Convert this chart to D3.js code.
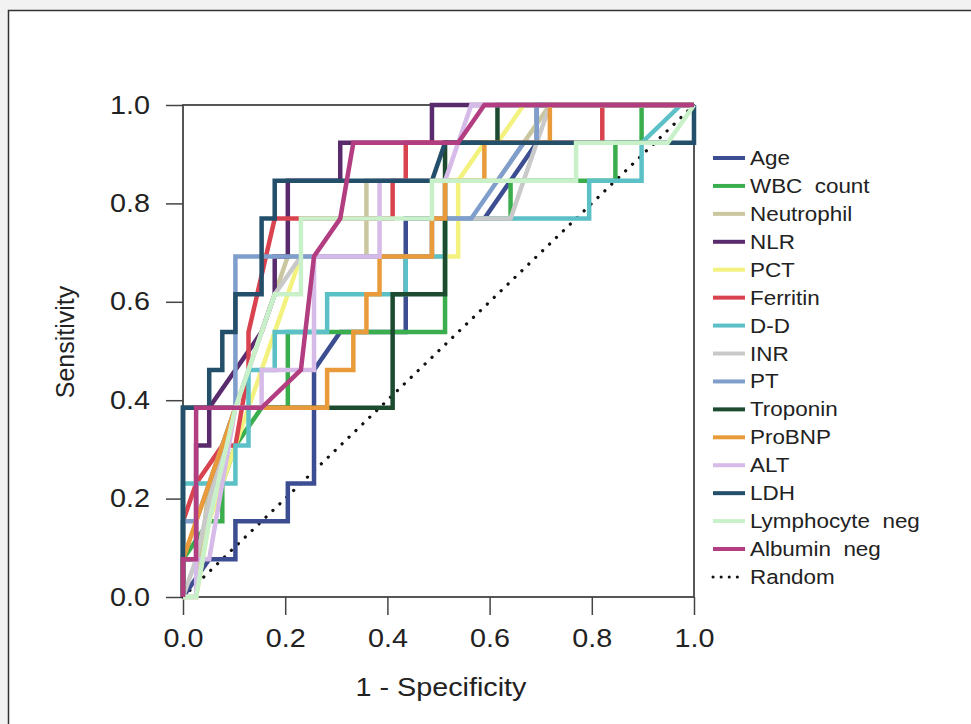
<!DOCTYPE html>
<html>
<head>
<meta charset="utf-8">
<script src="https://cdn.jsdelivr.net/npm/d3@7"></script>
<style>
  html, body { margin: 0; padding: 0; background: #f2f2f2; }
  svg { display: block; }
  text { font-family: "Liberation Sans", Arial, sans-serif; fill: #222; }
</style>
</head>
<body>
<svg width="971" height="724"></svg>
<script>
// ROC curves: points are [false positives, true positives] counts
// (39 negatives, 13 positives)
var N_NEG = 39, N_POS = 13;

var labels = ["Age", "WBC  count", "Neutrophil", "NLR", "PCT", "Ferritin", "D-D", "INR", "PT",
              "Troponin", "ProBNP", "ALT", "LDH", "Lymphocyte  neg", "Albumin  neg"];
var colors = ["#3c4e91", "#3aae4c", "#c9c6a0", "#5a2b6c", "#f4f27e", "#d8434f", "#5cc0c7", "#c9c9c9",
              "#7f9ecb", "#1c4b30", "#e99b3b", "#d6bae8", "#234f6b", "#c9f1c9", "#b23d80"];

var age        = [[0,0],[2,1],[4,1],[4,2],[8,2],[8,3],[10,3],[10,6],[12,7],[17,7],[17,10],[23,10],[27,12],[27,13],[39,13]];
var wbc        = [[0,0],[0,1],[2,2],[3,2],[3,3],[4,4],[6,5],[8,5],[8,7],[20,7],[20,10],[25,10],[25,11],[33,11],[33,12],[35,12],[35,13],[39,13]];
var neutrophil = [[0,0],[1,0],[2,3],[4,5],[6,7],[8,9],[14,9],[14,11],[24,11],[26,12],[28,13],[39,13]];
var nlr        = [[0,0],[0,1],[1,1],[1,4],[2,4],[2,5],[4,6],[6,7],[7,8],[7,9],[8,9],[8,11],[12,11],[12,12],[19,12],[19,13],[39,13]];
var pct        = [[0,0],[1,0],[2,2],[5,5],[7,7],[9,9],[21,9],[21,11],[23,12],[24,12],[26,13],[39,13]];
var ferritin   = [[0,0],[0,2],[1,3],[3,4],[4,4],[5,6],[5,7],[7,10],[16,10],[16,11],[17,11],[17,12],[32,12],[32,13],[39,13]];
var dd         = [[0,0],[0,3],[4,3],[4,4],[5,4],[5,6],[7,6],[7,7],[11,7],[11,8],[17,8],[17,9],[20,9],[20,10],[31,10],[31,11],[35,11],[35,12],[38,13],[39,13]];
var inr        = [[0,0],[1,1],[3,4],[5,6],[7,8],[9,9],[19,9],[19,10],[25,10],[27,12],[28,13],[39,13]];
var pt         = [[0,0],[0,2],[1,2],[4,5],[4,9],[19,9],[19,10],[22,10],[26,12],[27,12],[27,13],[39,13]];
var troponin   = [[0,0],[0,5],[16,5],[16,8],[20,8],[20,12],[24,12],[24,13],[39,13]];
var probnp     = [[0,0],[0,1],[1,2],[4,5],[11,5],[11,6],[13,6],[13,7],[14,7],[14,8],[15,8],[15,9],[19,9],[19,10],[20,10],[20,11],[23,11],[23,12],[28,12],[28,13],[39,13]];
var alt        = [[0,0],[1,0],[1,1],[2,1],[4,5],[6,5],[6,6],[10,6],[10,9],[15,9],[15,11],[20,11],[22,13],[39,13]];
var ldh        = [[0,0],[0,5],[2,5],[2,6],[3,6],[3,7],[4,7],[4,8],[6,8],[6,10],[7,10],[7,11],[19,11],[20,12],[39,12],[39,13]];
var lymph      = [[0,0],[1,0],[2,2],[4,5],[6,7],[7,8],[9,8],[9,10],[19,10],[19,11],[30,11],[30,12],[37,12],[39,13]];
var albumin    = [[0,0],[0,1],[1,1],[1,5],[6,5],[9,6],[10,9],[12,10],[13,12],[21,12],[23,13],[39,13]];

var curves = [age, wbc, neutrophil, nlr, pct, ferritin, dd, inr, pt, troponin, probnp, alt, ldh, lymph, albumin];
var ticks = [0, 0.2, 0.4, 0.6, 0.8, 1.0];

var svg = d3.select("svg");
var stretch = 1.15;   // the lettering in the picture is a bit wide

// white panel with border
svg.append("rect")
    .attr("x", 8.5).attr("y", 10.5)
    .attr("width", 1000).attr("height", 800)
    .style("fill", "#fff").style("stroke", "#333").style("stroke-width", 1.5);

var x = d3.scaleLinear().domain([0, 1]).range([183, 694]),
    y = d3.scaleLinear().domain([0, 1]).range([597, 105]);

var line = d3.line()
    .x(function(d) { return x(d[0] / N_NEG); })
    .y(function(d) { return y(d[1] / N_POS); });

// axes
var yAxis = svg.append("g")
    .attr("transform", "translate(183,0)")
    .call(d3.axisLeft(y).tickValues(ticks).tickFormat(d3.format(".1f")).tickSize(17).tickPadding(15));
var xAxis = svg.append("g")
    .attr("transform", "translate(0,597)")
    .call(d3.axisBottom(x).tickValues(ticks).tickFormat(d3.format(".1f")).tickSize(18).tickPadding(14));

[xAxis, yAxis].forEach(function(g) {
  g.select(".domain").remove();
  g.selectAll(".tick line").style("stroke", "#444").style("stroke-width", 1.5);
  g.selectAll(".tick text").style("font-size", "25px").style("fill", "#222")
    .style("font-family", "Liberation Sans, Arial, sans-serif")
    .attr("transform", "scale(" + stretch + ",1)");
});
yAxis.selectAll(".tick text").attr("x", -33 / stretch);

// plot frame
svg.append("rect")
    .attr("x", 183).attr("y", 105)
    .attr("width", 511).attr("height", 492)
    .style("fill", "none").style("stroke", "#444").style("stroke-width", 1.8);

// random reference line
svg.append("line")
    .attr("x1", x(0)).attr("y1", y(0))
    .attr("x2", x(1)).attr("y2", y(1))
    .style("stroke", "#111").style("stroke-width", 3.2)
    .style("stroke-linecap", "round")
    .style("stroke-dasharray", "0.1,9.5");

// the curves
svg.append("g")
  .selectAll("path")
  .data(curves)
  .enter().append("path")
    .attr("d", line)
    .style("fill", "none")
    .style("stroke", function(d, i) { return colors[i]; })
    .style("stroke-width", 4.5)
    .style("stroke-linejoin", "miter");

// axis titles
svg.append("text")
    .attr("transform", "translate(441,696) scale(" + stretch + ",1)")
    .attr("text-anchor", "middle")
    .style("font-size", "25px")
    .text("1 - Specificity");
svg.append("text")
    .attr("transform", "translate(74,342) rotate(-90)")
    .attr("text-anchor", "middle")
    .style("font-size", "25px")
    .text("Sensitivity");

// legend
var legend = svg.append("g").attr("transform", "translate(713,158)");
var items = legend.selectAll("g")
    .data(labels.concat(["Random"]))
    .enter().append("g")
    .attr("transform", function(d, i) { return "translate(0," + (i * 27.93) + ")"; });

items.append("line")
    .attr("x1", 0).attr("x2", 32)
    .style("stroke", function(d, i) { return i < colors.length ? colors[i] : "#111"; })
    .style("stroke-width", function(d, i) { return i < colors.length ? 4 : 3; })
    .style("stroke-linecap", function(d, i) { return i < colors.length ? "butt" : "round"; })
    .style("stroke-dasharray", function(d, i) { return i < colors.length ? null : "0.1,8"; });

items.append("text")
    .attr("x", 37 / stretch).attr("y", 7)
    .attr("transform", "scale(" + stretch + ",1)")
    .style("font-size", "19.5px")
    .style("white-space", "pre")
    .text(function(d) { return d; });
</script>
</body>
</html>
